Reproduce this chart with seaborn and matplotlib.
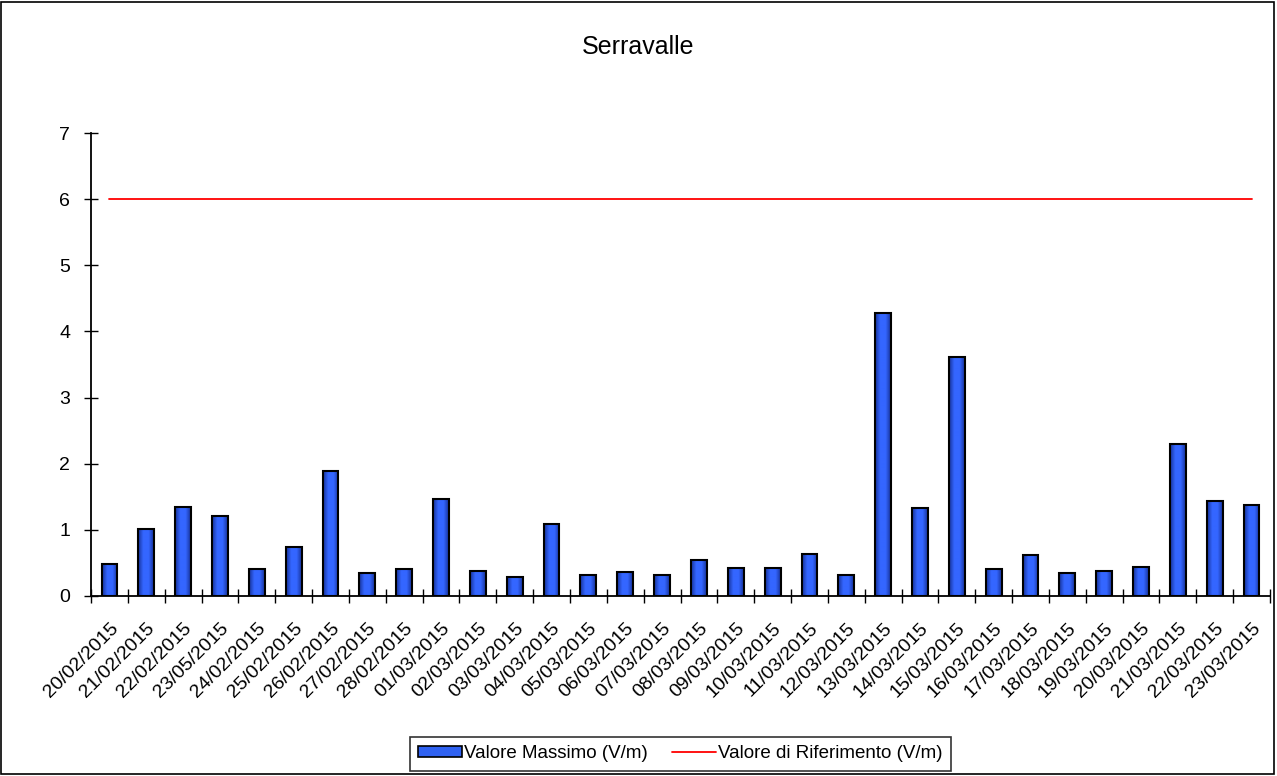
import numpy as np
import pandas as pd
import matplotlib.pyplot as plt
import seaborn as sns
from matplotlib.patches import Rectangle
from matplotlib.lines import Line2D
from matplotlib.colors import LinearSegmentedColormap

# === Data ===
dates = [
    "20/02/2015", "21/02/2015", "22/02/2015", "23/05/2015", "24/02/2015",
    "25/02/2015", "26/02/2015", "27/02/2015", "28/02/2015", "01/03/2015",
    "02/03/2015", "03/03/2015", "04/03/2015", "05/03/2015", "06/03/2015",
    "07/03/2015", "08/03/2015", "09/03/2015", "10/03/2015", "11/03/2015",
    "12/03/2015", "13/03/2015", "14/03/2015", "15/03/2015", "16/03/2015",
    "17/03/2015", "18/03/2015", "19/03/2015", "20/03/2015", "21/03/2015",
    "22/03/2015", "23/03/2015",
]
max_values = [
    0.49, 1.02, 1.34, 1.21, 0.41, 0.74, 1.89, 0.34, 0.41, 1.47,
    0.38, 0.28, 1.09, 0.31, 0.36, 0.31, 0.54, 0.43, 0.43, 0.64,
    0.31, 4.28, 1.33, 3.61, 0.41, 0.62, 0.35, 0.38, 0.44, 2.30,
    1.43, 1.38,
]
reference = [6] * len(dates)
y_ticks = [0, 1, 2, 3, 4, 5, 6, 7]

df = pd.DataFrame({"Data": dates, "Valore": max_values, "Rif": reference})

sns.set_style("white")
plt.rcParams["font.family"] = ["Liberation Sans", "DejaVu Sans"]
plt.rcParams["text.color"] = "black"
plt.rcParams["xtick.color"] = "black"
plt.rcParams["ytick.color"] = "black"

BAR_COLOR = "#2f62f2"
bar_cmap = LinearSegmentedColormap.from_list(
    "bar", ["#17329a", "#3466ff", "#3466ff", "#17329a"])
gradient = np.linspace(0, 1, 64).reshape(1, -1)

fig = plt.figure(figsize=(12.77, 7.76), dpi=100)
ax = fig.add_axes([0.0713, 0.232, 0.9232, 0.5966])

# === Bars ===
sns.barplot(
    data=df, x="Data", y="Valore", ax=ax, width=0.43,
    color=BAR_COLOR, edgecolor="black", linewidth=1.5, saturation=1,
)

# horizontal shading inside each bar, like the original
for bar in list(ax.patches):
    x0, y0 = bar.get_x(), bar.get_y()
    w, h = bar.get_width(), bar.get_height()
    im = ax.imshow(gradient, cmap=bar_cmap, aspect="auto",
                   extent=(x0, x0 + w, y0, y0 + h), zorder=2)
    im.set_clip_path(bar)
    bar.set_facecolor("none")
    bar.set_zorder(3)

# === Reference line ===
ax.plot(np.arange(len(dates)), df["Rif"], color="#ff0000", linewidth=1.3, zorder=4)

ax.set_xlim(-0.5, len(dates) - 0.5)
ax.set_ylim(0, 7)
ax.set_yticks(y_ticks)
ax.set_yticklabels([str(t) for t in y_ticks], fontsize=14)

# ticks at category boundaries, labels at centres
ax.set_xticks(np.arange(len(dates) + 1) - 0.5)
ax.set_xticklabels([])
ax.set_xticks(np.arange(len(dates)), minor=True)
ax.set_xticklabels(dates, minor=True, rotation=45, ha="right",
                   rotation_mode="anchor", fontsize=14)
ax.tick_params(axis="x", which="minor", length=0, pad=17)
ax.tick_params(axis="x", which="major", direction="inout", length=10,
               width=1, bottom=True)
ax.tick_params(axis="y", direction="inout", length=10, width=1,
               left=True, pad=10)
ax.set_xlabel("")
ax.set_ylabel("")

for side in ["top", "right"]:
    ax.spines[side].set_visible(False)
for side in ["left", "bottom"]:
    ax.spines[side].set_color("black")
    ax.spines[side].set_linewidth(1.3)

fig.text(0.5, 0.94, "Serravalle", ha="center", va="center", fontsize=18)

# === Legend ===
handles = [
    Rectangle((0, 0), 1, 1, facecolor=BAR_COLOR, edgecolor="black", linewidth=1.2),
    Line2D([0], [0], color="#ff0000", linewidth=1.3),
]
leg = fig.legend(
    handles, ["Valore Massimo (V/m)", "Valore di Riferimento (V/m)"],
    loc="center", bbox_to_anchor=(0.533, 0.0285), ncol=2, fontsize=13.5,
    frameon=True, fancybox=False, edgecolor="black", handlelength=2.3,
    handleheight=0.55, handletextpad=0.15, columnspacing=1.3, borderpad=0.45,
    borderaxespad=0,
)
leg.get_frame().set_linewidth(1.2)

# outer border
fig.patches.append(Rectangle((0.001, 0.002), 0.997, 0.996, transform=fig.transFigure,
                             fill=False, edgecolor="black", linewidth=1.2))

fig.savefig("out.png", dpi=100)
